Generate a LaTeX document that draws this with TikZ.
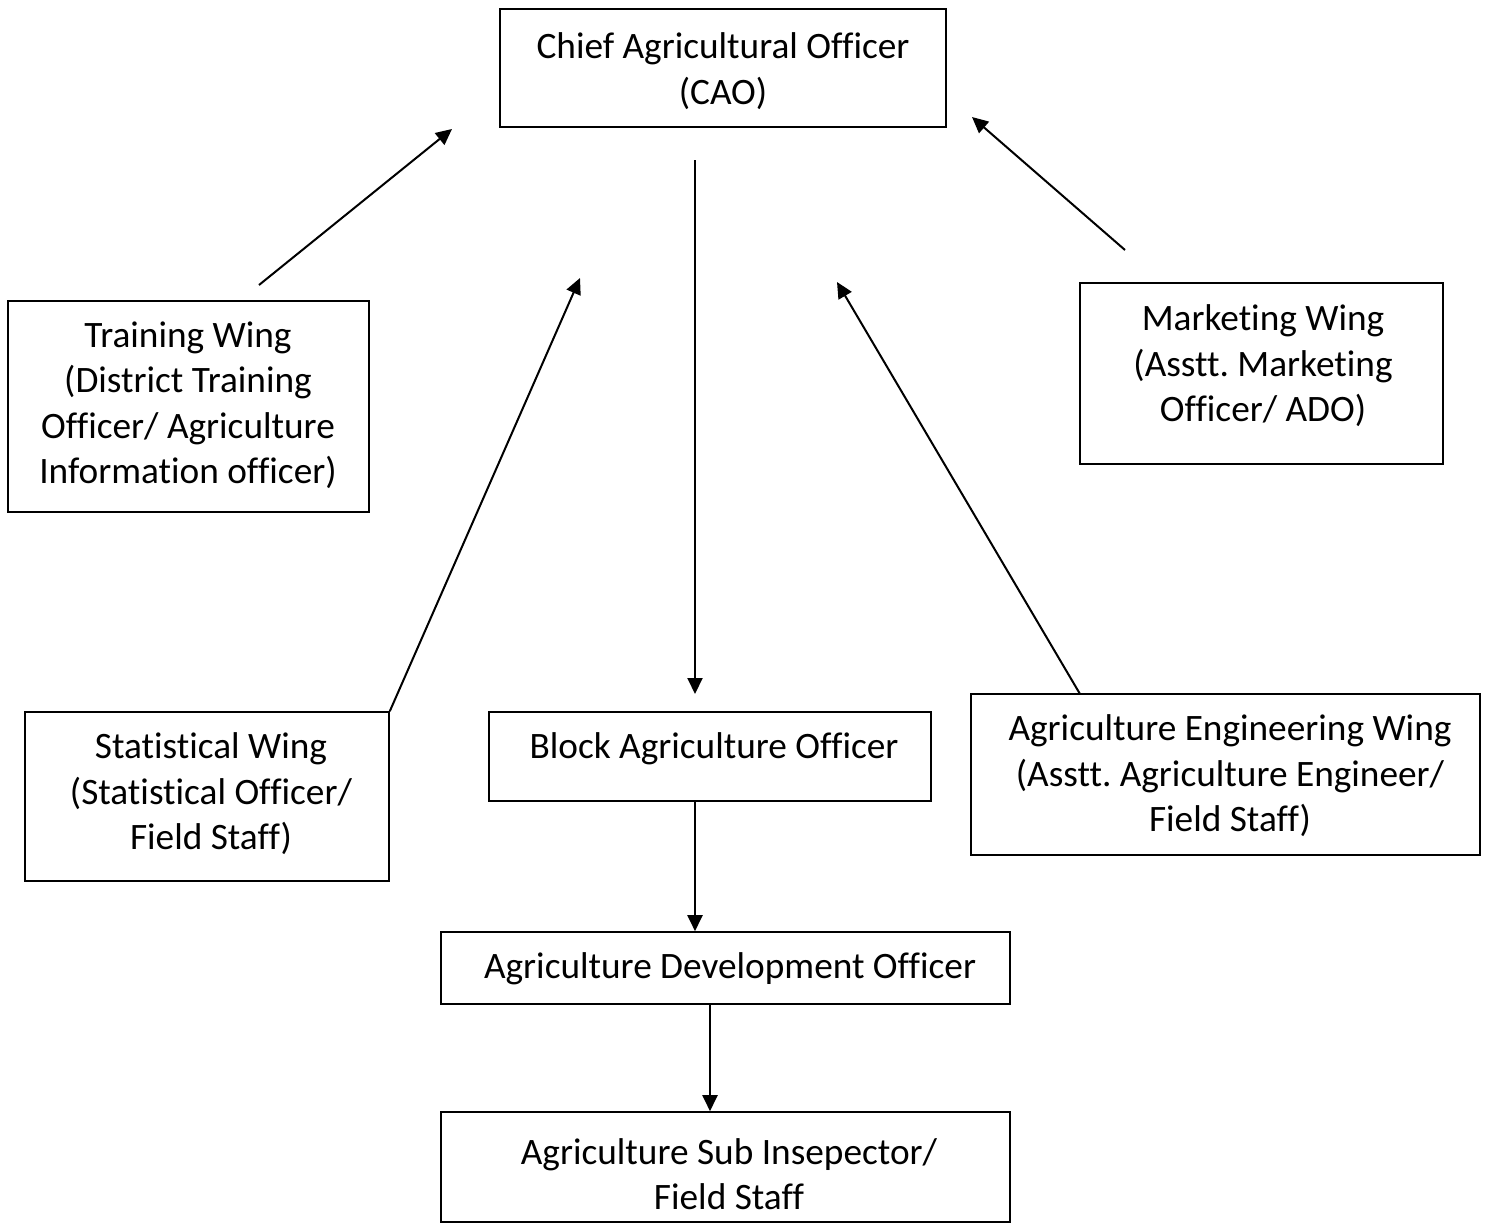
\documentclass[tikz,border=0pt]{standalone}
\usepackage{fontspec}
\setmainfont{Carlito}[Ligatures=CommonOff]
\usetikzlibrary{arrows.meta,calc}
\begin{document}
\frenchspacing
\begin{tikzpicture}[x=1pt,y=-1pt,
  box/.style={draw,line width=1.6pt,inner sep=0pt},
  lbl/.style={align=center,inner sep=0pt,font=\fontsize{37.3}{45.5}\selectfont},
  arr/.style={line width=2pt,-{Triangle[length=16pt,width=15pt]}}]
\useasboundingbox[fill=white] (0,0) rectangle (1488,1224);
% boxes
\node[box,minimum width=446pt,minimum height=118pt] (cao) at (723,68) {};
\node[box,minimum width=361pt,minimum height=211pt] (train) at (188.5,406.5) {};
\node[box,minimum width=363pt,minimum height=181pt] (mkt) at (1261.5,373.5) {};
\node[box,minimum width=364pt,minimum height=169pt] (stat) at (207,796.5) {};
\node[box,minimum width=442pt,minimum height=89pt] (block) at (710,756.5) {};
\node[box,minimum width=509pt,minimum height=161pt] (eng) at (1225.5,774.5) {};
\node[box,minimum width=569pt,minimum height=72pt] (ado) at (725.5,968) {};
\node[box,minimum width=569pt,minimum height=110pt] (sub) at (725.5,1167) {};
% labels
\node[lbl] (cao-t) at (723,71) {Chief Agricultural Officer\\(CAO)};
\node[lbl] (train-t) at (188,405) {Training Wing\\(District Training\\Officer/ Agriculture\\Information officer)};
\node[lbl] (mkt-t) at (1263,366) {Marketing Wing\\(Asstt. Marketing\\Officer/ ADO)};
\node[lbl] (stat-t) at (211,794) {Statistical Wing\\(Statistical Officer/\\Field Staff)};
\node[lbl] (block-t) at (714,749) {Block Agriculture Officer};
\node[lbl] (eng-t) at (1230,776) {Agriculture Engineering Wing\\(Asstt. Agriculture Engineer/\\Field Staff)};
\node[lbl] (ado-t) at (730,969) {Agriculture Development Officer};
\node[lbl] (sub-t) at (729,1174) {Agriculture Sub Insepector/\\Field Staff};
% free ends
\coordinate (t1) at (259,285);
\coordinate (t2) at (452,129);
\coordinate (m1) at (1125,250);
\coordinate (m2) at (972,117);
\coordinate (s2) at (580,278);
\coordinate (e1) at (1080,694);
\coordinate (e2) at (837,282);
\coordinate (c1) at (695,160);
\coordinate (c2) at (695,694);
\coordinate (xa) at (695,0);
\coordinate (xb) at (710,0);
% connectors
\draw[arr] (t1) -- (t2);
\draw[arr] (m1) -- (m2);
\draw[arr] (stat.north east) -- (s2);
\draw[arr] (e1) -- (e2);
\draw[arr] (c1) -- (c2);
\draw[arr] (block.south -| xa) -- (ado.north -| xa);
\draw[arr] (ado.south -| xb) -- (sub.north -| xb);
\end{tikzpicture}
\end{document}
